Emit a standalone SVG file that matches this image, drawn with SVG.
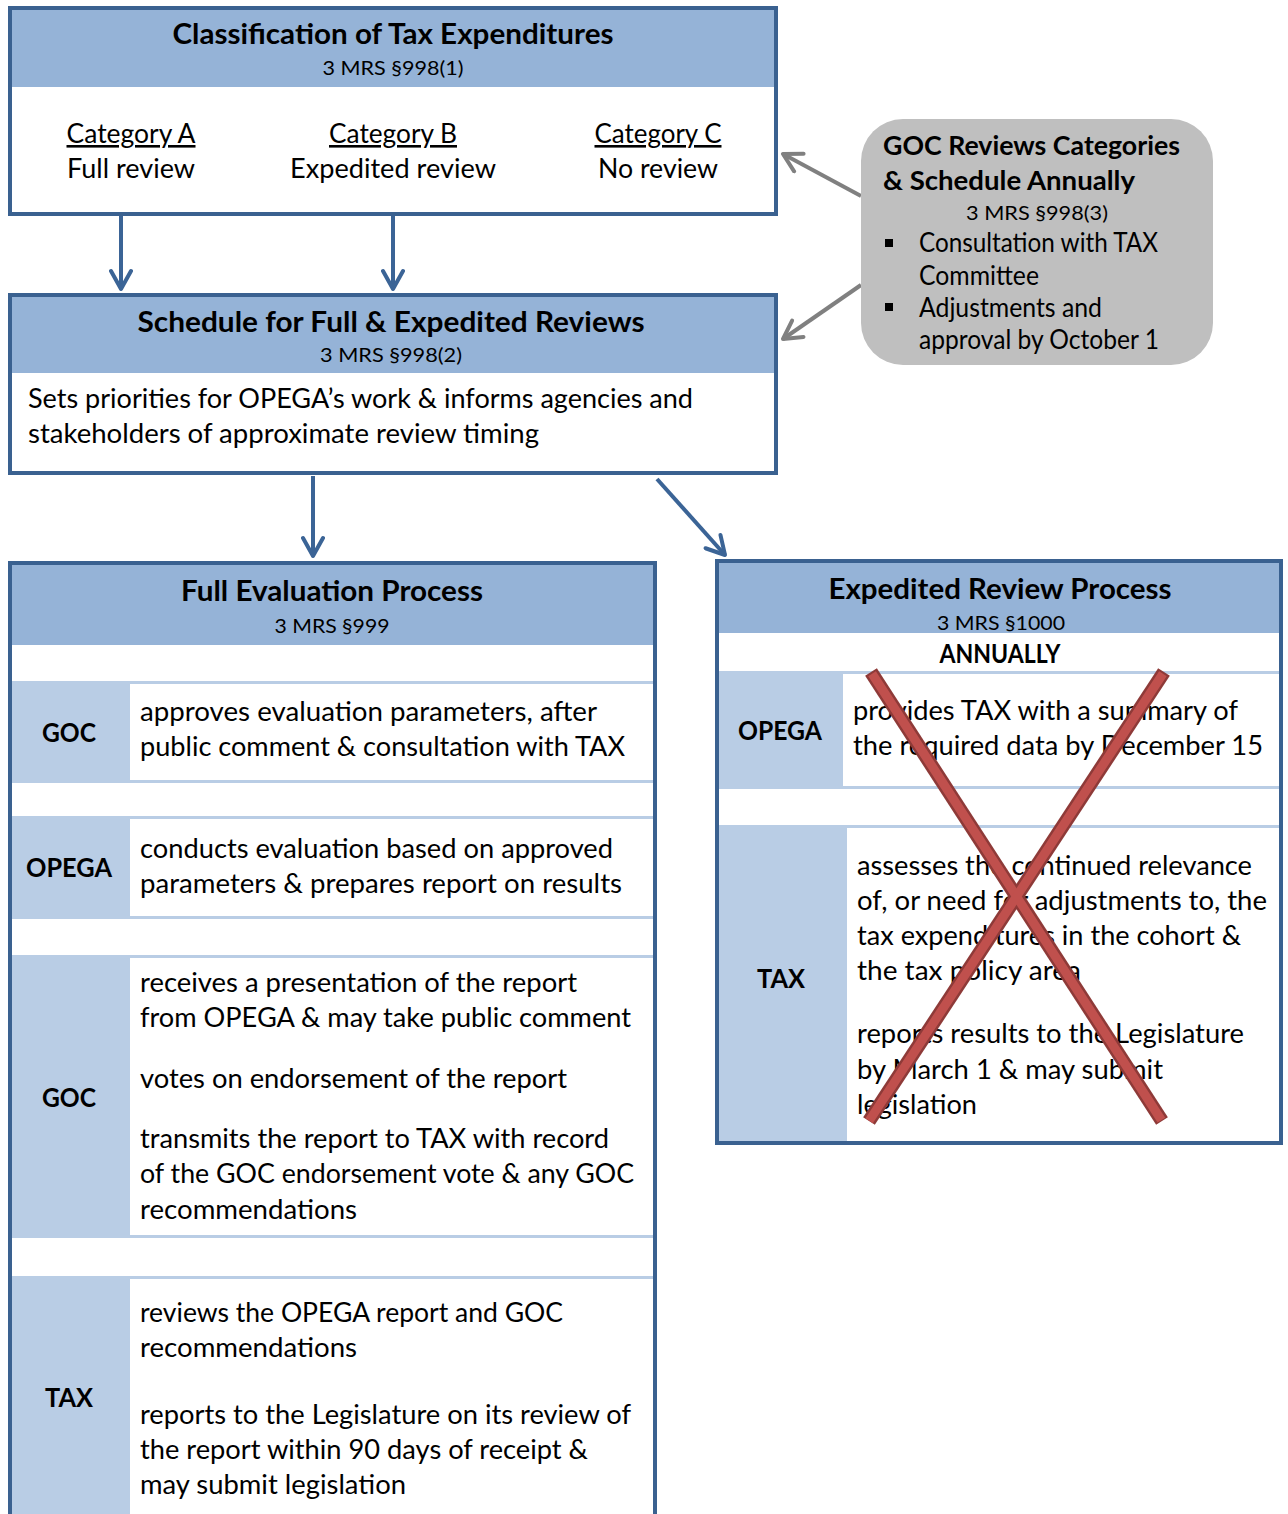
<svg xmlns="http://www.w3.org/2000/svg" width="1288" height="1514" viewBox="0 0 1288 1514">
<defs>
<style>
text{font-family:Lato,"Liberation Sans",sans-serif;fill:#000}
.t{font-size:28px;font-weight:bold;text-anchor:middle}
.s{font-size:20px;text-anchor:middle}
.b{font-size:26px}
.c{font-size:26px;text-anchor:middle}
.u{text-decoration:underline}
.l{font-size:26px;font-weight:bold;text-anchor:middle}
.box{fill:#fff;stroke:#3A6190;stroke-width:4}
.hd{fill:#95B3D7}
.lc{fill:#B9CDE5}
.wc{fill:#fff}
.ab{stroke:#3B6496;stroke-width:4;fill:none}
.ag{stroke:#808080;stroke-width:4;fill:none}
</style>
<marker id="mb" markerUnits="userSpaceOnUse" viewBox="0 0 24 24" markerWidth="24" markerHeight="24" refX="21" refY="12" orient="auto">
<path d="M3,2 L21,12 L3,22" fill="none" stroke="#3B6496" stroke-width="4" stroke-linecap="round" stroke-linejoin="round"/>
</marker>
<marker id="mg" markerUnits="userSpaceOnUse" viewBox="0 0 24 24" markerWidth="24" markerHeight="24" refX="21" refY="12" orient="auto">
<path d="M3,2 L21,12 L3,22" fill="none" stroke="#808080" stroke-width="4" stroke-linecap="round" stroke-linejoin="round"/>
</marker>
</defs>

<g id="connectors">
<line class="ab" x1="121" y1="216" x2="121" y2="289" marker-end="url(#mb)"/>
<line class="ab" x1="393" y1="216" x2="393" y2="289" marker-end="url(#mb)"/>
<line class="ab" x1="313" y1="476" x2="313" y2="556" marker-end="url(#mb)"/>
<line class="ab" x1="657" y1="479" x2="725" y2="555" marker-end="url(#mb)"/>
<line class="ag" x1="861" y1="196" x2="783" y2="154" marker-end="url(#mg)"/>
<line class="ag" x1="861" y1="285" x2="783" y2="339" marker-end="url(#mg)"/>
</g>

<g id="classification">
<rect class="box" x="10" y="8" width="766" height="206"/>
<rect class="hd" x="12" y="10" width="762" height="77"/>
<text class="t" x="393" y="44" textLength="441" lengthAdjust="spacingAndGlyphs">Classification of Tax Expenditures</text>
<text class="s" x="393" y="75" textLength="141" lengthAdjust="spacingAndGlyphs">3 MRS §998(1)</text>
<text class="c u" x="131" y="143" textLength="129" lengthAdjust="spacingAndGlyphs">Category A</text>
<text class="c" x="131" y="178" textLength="128" lengthAdjust="spacingAndGlyphs">Full review</text>
<text class="c u" x="393" y="143" textLength="128" lengthAdjust="spacingAndGlyphs">Category B</text>
<text class="c" x="393" y="178" textLength="206" lengthAdjust="spacingAndGlyphs">Expedited review</text>
<text class="c u" x="658" y="143" textLength="127" lengthAdjust="spacingAndGlyphs">Category C</text>
<text class="c" x="658" y="178" textLength="120" lengthAdjust="spacingAndGlyphs">No review</text>
</g>

<g id="goc-annual">
<rect x="861" y="119" width="352" height="246" rx="42" ry="42" fill="#BFBFBF"/>
<text class="b" x="883" y="155" font-weight="bold" textLength="297" lengthAdjust="spacingAndGlyphs">GOC Reviews Categories</text>
<text class="b" x="883" y="190" font-weight="bold" textLength="252" lengthAdjust="spacingAndGlyphs">&amp; Schedule Annually</text>
<text class="s" x="1037" y="220" textLength="142" lengthAdjust="spacingAndGlyphs">3 MRS §998(3)</text>
<rect x="885" y="239" width="8" height="8" fill="#000"/>
<text class="b" x="919" y="252" font-size="24" textLength="239" lengthAdjust="spacingAndGlyphs">Consultation with TAX</text>
<text class="b" x="919" y="285" font-size="24" textLength="120" lengthAdjust="spacingAndGlyphs">Committee</text>
<rect x="885" y="303" width="8" height="8" fill="#000"/>
<text class="b" x="919" y="317" font-size="24" textLength="183" lengthAdjust="spacingAndGlyphs">Adjustments and</text>
<text class="b" x="919" y="349" font-size="24" textLength="240" lengthAdjust="spacingAndGlyphs">approval by October 1</text>
</g>

<g id="schedule">
<rect class="box" x="10" y="295" width="766" height="178"/>
<rect class="hd" x="12" y="297" width="762" height="76"/>
<text class="t" x="391" y="332" textLength="507" lengthAdjust="spacingAndGlyphs">Schedule for Full &amp; Expedited Reviews</text>
<text class="s" x="391" y="362" textLength="142" lengthAdjust="spacingAndGlyphs">3 MRS §998(2)</text>
<text class="b" x="28" y="408" textLength="665" lengthAdjust="spacingAndGlyphs">Sets priorities for OPEGA’s work &amp; informs agencies and</text>
<text class="b" x="28" y="443" textLength="511" lengthAdjust="spacingAndGlyphs">stakeholders of approximate review timing</text>
</g>

<g id="full-evaluation">
<rect class="box" x="10" y="563" width="645" height="1000"/>
<rect class="hd" x="12" y="565" width="641" height="80"/>
<text class="t" x="332" y="601" textLength="302" lengthAdjust="spacingAndGlyphs">Full Evaluation Process</text>
<text class="s" x="332" y="633" textLength="115" lengthAdjust="spacingAndGlyphs">3 MRS §999</text>

<rect class="lc" x="12" y="681" width="641" height="102"/>
<rect class="wc" x="130" y="684" width="523" height="96"/>
<text class="l" x="69" y="742" textLength="54" lengthAdjust="spacingAndGlyphs">GOC</text>
<text class="b" x="140" y="721" textLength="457" lengthAdjust="spacingAndGlyphs">approves evaluation parameters, after</text>
<text class="b" x="140" y="756" textLength="485" lengthAdjust="spacingAndGlyphs">public comment &amp; consultation with TAX</text>

<rect class="lc" x="12" y="816" width="641" height="103"/>
<rect class="wc" x="130" y="819" width="523" height="97"/>
<text class="l" x="69" y="877" textLength="86" lengthAdjust="spacingAndGlyphs">OPEGA</text>
<text class="b" x="140" y="858" textLength="473" lengthAdjust="spacingAndGlyphs">conducts evaluation based on approved</text>
<text class="b" x="140" y="893" textLength="482" lengthAdjust="spacingAndGlyphs">parameters &amp; prepares report on results</text>

<rect class="lc" x="12" y="955" width="641" height="283"/>
<rect class="wc" x="130" y="958" width="523" height="277"/>
<text class="l" x="69" y="1107" textLength="54" lengthAdjust="spacingAndGlyphs">GOC</text>
<text class="b" x="140" y="992" textLength="437" lengthAdjust="spacingAndGlyphs">receives a presentation of the report</text>
<text class="b" x="140" y="1027" textLength="491" lengthAdjust="spacingAndGlyphs">from OPEGA &amp; may take public comment</text>
<text class="b" x="140" y="1088" textLength="427" lengthAdjust="spacingAndGlyphs">votes on endorsement of the report</text>
<text class="b" x="140" y="1148" textLength="469" lengthAdjust="spacingAndGlyphs">transmits the report to TAX with record</text>
<text class="b" x="140" y="1183" textLength="494" lengthAdjust="spacingAndGlyphs">of the GOC endorsement vote &amp; any GOC</text>
<text class="b" x="140" y="1219" textLength="217" lengthAdjust="spacingAndGlyphs">recommendations</text>

<rect class="lc" x="12" y="1276" width="641" height="240"/>
<rect class="wc" x="130" y="1279" width="523" height="237"/>
<text class="l" x="69" y="1407" textLength="48" lengthAdjust="spacingAndGlyphs">TAX</text>
<text class="b" x="140" y="1322" textLength="423" lengthAdjust="spacingAndGlyphs">reviews the OPEGA report and GOC</text>
<text class="b" x="140" y="1357" textLength="217" lengthAdjust="spacingAndGlyphs">recommendations</text>
<text class="b" x="140" y="1424" textLength="491" lengthAdjust="spacingAndGlyphs">reports to the Legislature on its review of</text>
<text class="b" x="140" y="1459" textLength="448" lengthAdjust="spacingAndGlyphs">the report within 90 days of receipt &amp;</text>
<text class="b" x="140" y="1494" textLength="266" lengthAdjust="spacingAndGlyphs">may submit legislation</text>
</g>

<g id="expedited-review">
<rect class="box" x="717" y="561" width="564" height="582"/>
<rect class="hd" x="719" y="563" width="560" height="70"/>
<text class="t" x="1000" y="599" textLength="343" lengthAdjust="spacingAndGlyphs">Expedited Review Process</text>
<text class="s" x="1001" y="630" textLength="128" lengthAdjust="spacingAndGlyphs">3 MRS §1000</text>
<text class="l" x="1000" y="663" font-size="22" textLength="121" lengthAdjust="spacingAndGlyphs">ANNUALLY</text>

<rect class="lc" x="719" y="671" width="560" height="118"/>
<rect class="wc" x="843" y="674" width="436" height="112"/>
<text class="l" x="780" y="740" textLength="84" lengthAdjust="spacingAndGlyphs">OPEGA</text>
<text class="b" x="853" y="720" textLength="385" lengthAdjust="spacingAndGlyphs">provides TAX with a summary of</text>
<text class="b" x="853" y="755" textLength="410" lengthAdjust="spacingAndGlyphs">the required data by December 15</text>

<rect class="lc" x="719" y="825" width="560" height="316"/>
<rect class="wc" x="847" y="828" width="432" height="313"/>
<text class="l" x="781" y="988" textLength="48" lengthAdjust="spacingAndGlyphs">TAX</text>
<text class="b" x="857" y="875" textLength="395" lengthAdjust="spacingAndGlyphs">assesses the continued relevance</text>
<text class="b" x="857" y="910" textLength="410" lengthAdjust="spacingAndGlyphs">of, or need for adjustments to, the</text>
<text class="b" x="857" y="945" textLength="384" lengthAdjust="spacingAndGlyphs">tax expenditures in the cohort &amp;</text>
<text class="b" x="857" y="980" textLength="224" lengthAdjust="spacingAndGlyphs">the tax policy area</text>
<text class="b" x="857" y="1043" textLength="387" lengthAdjust="spacingAndGlyphs">reports results to the Legislature</text>
<text class="b" x="857" y="1079" textLength="306" lengthAdjust="spacingAndGlyphs">by March 1 &amp; may submit</text>
<text class="b" x="857" y="1114" textLength="120" lengthAdjust="spacingAndGlyphs">legislation</text>

<g id="cross">
<line x1="871" y1="672" x2="1162" y2="1121" stroke="#8E3A38" stroke-width="14"/>
<line x1="1164" y1="672" x2="869" y2="1121" stroke="#8E3A38" stroke-width="14"/>
<line x1="871" y1="672" x2="1162" y2="1121" stroke="#C0504D" stroke-width="9" stroke-dasharray="0 2 530"/>
<line x1="1164" y1="672" x2="869" y2="1121" stroke="#C0504D" stroke-width="9" stroke-dasharray="0 2 533"/>
</g>
</g>
</svg>
